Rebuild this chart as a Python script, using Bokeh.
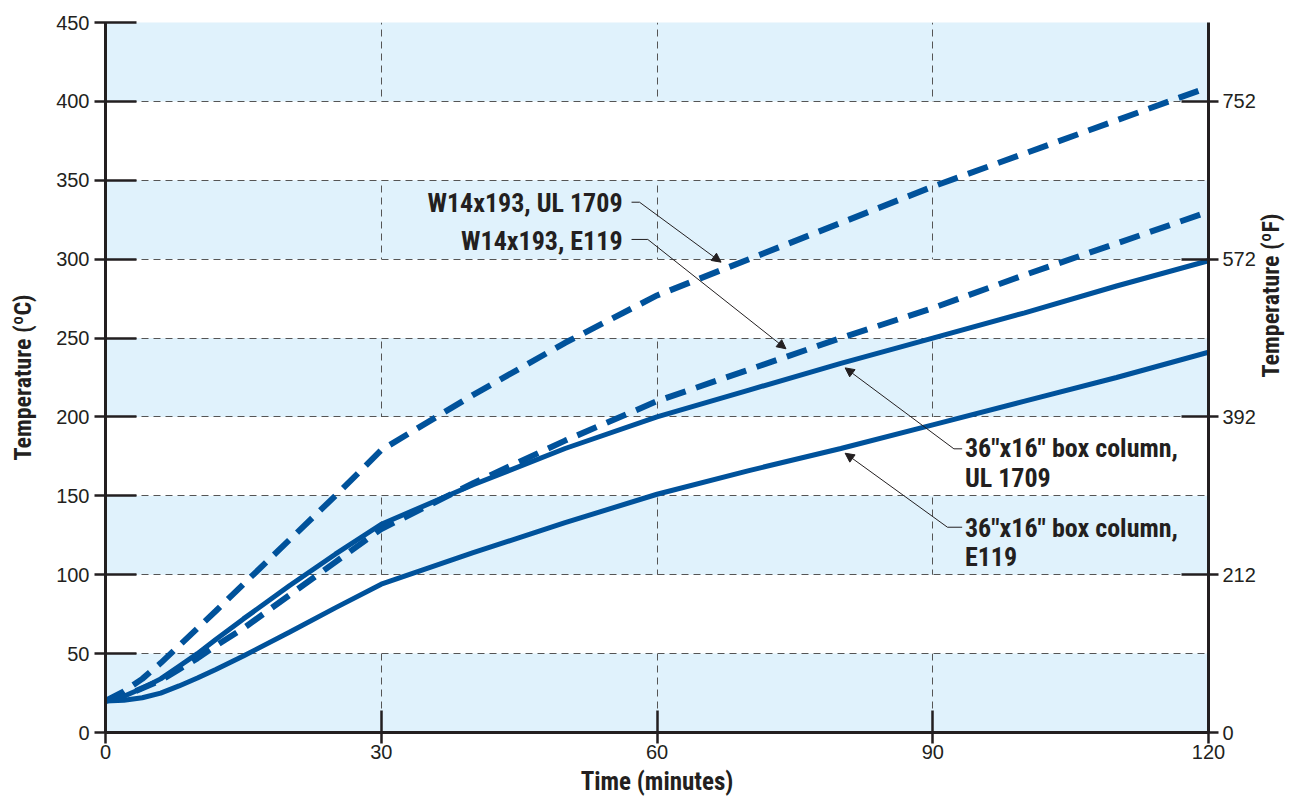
import math
from bokeh.plotting import figure
from bokeh.models import LinearAxis, FixedTicker, Range1d, Arrow, NormalHead
from bokeh.core.properties import value
from bokeh.embed import file_html
from bokeh.resources import INLINE

# ---- data ----
time_min = [0, 2, 4, 6, 8, 10, 12, 15, 20, 25, 30, 40, 50, 60, 70, 80, 90, 100, 110, 120]
w14_ul1709 = [20, 26, 34, 44, 55, 66, 77, 94, 122, 150, 179, 214, 247, 277, 300, 323, 346, 367, 388, 409]
w14_e119 = [20, 23, 28, 33, 40, 47, 55, 66, 87, 108, 129, 158, 185, 210, 230, 250, 269, 290, 310, 330]
box_ul1709 = [20, 23, 28, 34, 42, 50, 59, 72, 93, 113, 132, 157, 180, 200, 217, 234, 250, 266, 283, 299]
box_e119 = [20, 20.5, 22, 25, 29.5, 34.5, 40, 48.5, 63.5, 79, 94, 114, 133, 151, 166, 180, 195, 210, 225, 241]

x_ticks = [0, 30, 60, 90, 120]
y_ticks = [0, 50, 100, 150, 200, 250, 300, 350, 400, 450]
f_ticks_c = [0, 100, 200, 300, 400]
f_tick_labels = ["0", "212", "392", "572", "752"]

BLUE = "#00529b"
INK = "#231f20"
REG = "Liberation Sans"
COND = "Roboto Condensed"

p = figure(width=1301, height=798, output_backend="svg", toolbar_location=None,
           x_range=Range1d(0, 120), y_range=Range1d(0, 450),
           min_border_left=105, min_border_right=91, min_border_top=22, min_border_bottom=66)
p.outline_line_color = None
p.background_fill_color = "#e0f2fc"
p.border_fill_color = "white"

# grids
p.xgrid.ticker = FixedTicker(ticks=x_ticks)
p.ygrid.ticker = FixedTicker(ticks=y_ticks)
for g in (p.xgrid, p.ygrid):
    g.grid_line_color = "#555555"
    g.grid_line_dash = "7 5"
    g.grid_line_width = 1
p.ygrid.band_fill_color = "white"
p.ygrid.band_fill_alpha = 1.0

def style_axis(ax, tin, tout, label_size):
    ax.axis_line_color = INK
    ax.axis_line_width = 3
    ax.major_tick_line_color = INK
    ax.major_tick_line_width = 2.5
    ax.major_tick_in = tin
    ax.major_tick_out = tout
    ax.minor_tick_line_color = None
    ax.major_label_text_font = REG
    ax.major_label_text_font_size = "20px"
    ax.major_label_text_color = INK
    ax.axis_label_text_font = COND
    ax.axis_label_text_font_style = "bold"
    ax.axis_label_text_font_size = label_size
    ax.axis_label_text_color = INK

xa = p.xaxis[0]
xa.ticker = FixedTicker(ticks=x_ticks)
xa.axis_label = "Time (minutes)"
xa.axis_label_standoff = 5
xa.major_label_standoff = 1
style_axis(xa, 22, 11, "25px")

ya = p.yaxis[0]
ya.ticker = FixedTicker(ticks=y_ticks)
ya.axis_label = "Temperature (ºC)"
ya.axis_label_standoff = 16
ya.major_label_standoff = 5
style_axis(ya, 31, 11, "24px")

ra = LinearAxis(ticker=FixedTicker(ticks=f_ticks_c),
                major_label_overrides={t: l for t, l in zip(f_ticks_c, f_tick_labels)},
                axis_label="Temperature (ºF)")
ra.axis_label_standoff = 12
ra.major_label_standoff = 4
style_axis(ra, 27, 10, "24px")
try:
    ra.axis_label_orientation = math.pi / 2
except AttributeError:
    pass
p.add_layout(ra, "right")

# series
p.line(time_min, w14_ul1709, line_color=BLUE, line_width=6, line_dash="21 11")
p.line(time_min, w14_e119, line_color=BLUE, line_width=6, line_dash="21 11")
p.line(time_min, box_ul1709, line_color=BLUE, line_width=5)
p.line(time_min, box_e119, line_color=BLUE, line_width=5)

# annotations (layout positions in data units)
labels_right = [("W14x193, UL 1709", 56.25, 335.3), ("W14x193, E119", 56.25, 311.8)]
labels_left = [("36\"x16\" box column,", 93.5, 180.6), ("UL 1709", 93.5, 161.6),
               ("36\"x16\" box column,", 93.5, 129.9), ("E119", 93.5, 111.1)]
for txt, xx, yy in labels_right:
    p.text(x=[xx], y=[yy], text=[txt], text_align="right", text_baseline="middle",
           text_font=value(COND), text_font_style="bold", text_font_size="26px", text_color=INK)
for txt, xx, yy in labels_left:
    p.text(x=[xx], y=[yy], text=[txt], text_align="left", text_baseline="middle",
           text_font=value(COND), text_font_style="bold", text_font_size="26px", text_color=INK)

leaders = [
    ((57.23, 336.1), (58.1, 336.1), (66.97, 298.1)),
    ((57.23, 312.5), (59.0, 312.5), (74.03, 243.2)),
    ((93.2, 179.8), (92.3, 179.8), (80.47, 231.1)),
    ((93.2, 130.1), (91.6, 130.1), (80.47, 177.0)),
]
for (s, b, t) in leaders:
    p.line([s[0], b[0]], [s[1], b[1]], line_color=INK, line_width=1)
    p.add_layout(Arrow(end=NormalHead(size=9, fill_color=INK, line_color=INK, line_width=1),
                       x_start=b[0], y_start=b[1], x_end=t[0], y_end=t[1],
                       line_color=INK, line_width=1))

open("out.html", "w").write(file_html(p, INLINE))
